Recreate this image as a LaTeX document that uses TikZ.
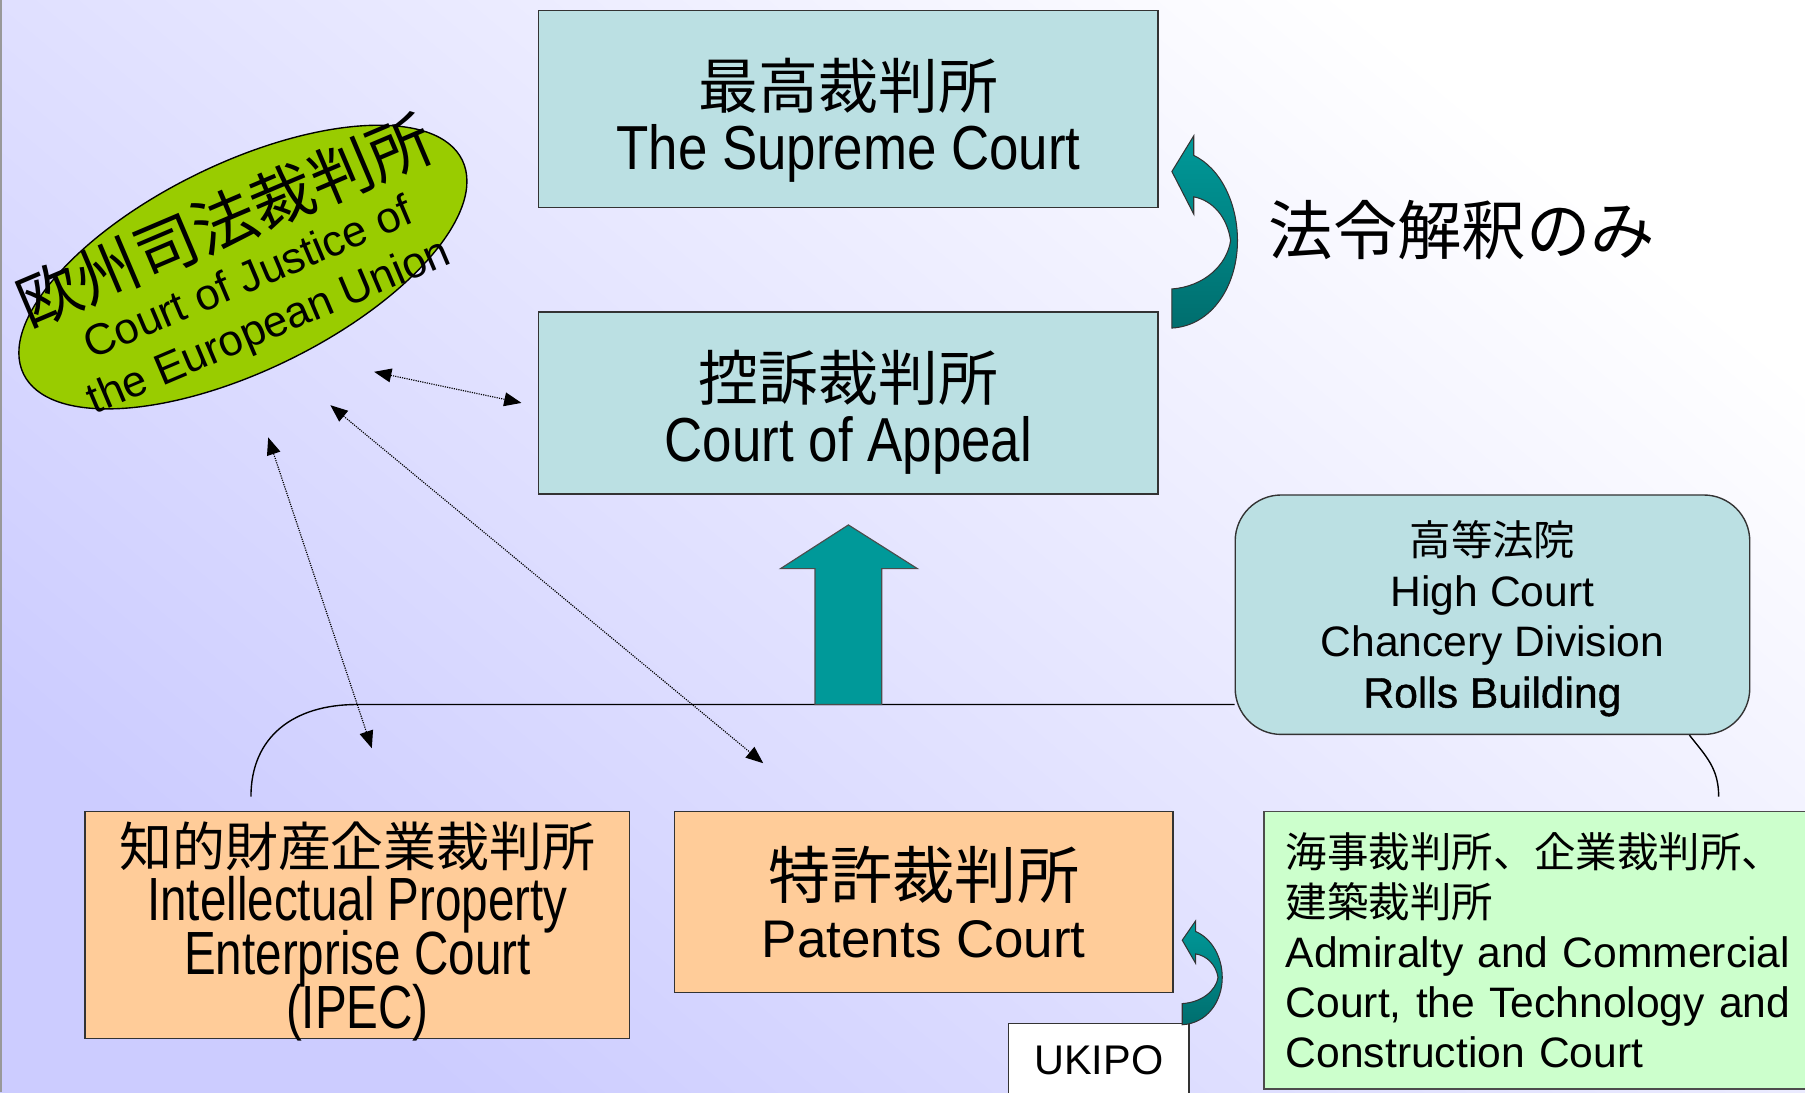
\documentclass[tikz,border=0pt]{standalone}
\usepackage{fontspec}
\setmainfont{Liberation Sans}
\newfontfamily\jp{Noto Sans CJK JP}
\newfontfamily\cond[FakeStretch=0.85]{Liberation Sans}
\newfontfamily\condd[FakeStretch=0.78]{Liberation Sans}
\newfontfamily\heavy[FakeBold=1]{Liberation Sans}
\usetikzlibrary{calc,shapes,positioning}
\usetikzlibrary{arrows.meta}

\definecolor{courtblue}{RGB}{187,224,227}
\definecolor{courtorange}{RGB}{255,204,153}
\definecolor{courtgreen}{RGB}{204,255,204}
\definecolor{eugreen}{RGB}{153,204,0}
\definecolor{arrowteal}{RGB}{0,153,153}
\definecolor{arrowdark}{RGB}{0,110,110}
\definecolor{slidebg}{RGB}{204,204,255}

% bent arrow, drawn in a 57 x 167 box
\newcommand{\bendarrow}{\shadedraw[draw=black!80, line width=0.9pt, top color=arrowteal, bottom color=arrowdark]
  (19,17) .. controls (42,28) and (57,58) .. (57,91) .. controls (57,130) and (35,165) .. (0,167)
  -- (0,133) .. controls (28,131) and (48,112) .. (51,91) .. controls (48,70) and (35,56) .. (19,53)
  -- (19,68) -- (0,31) -- (19,0) -- cycle;}

\begin{document}
\global\lineskiplimit=-100pt
\begin{tikzpicture}[x=1pt,y=-1pt]
    \tikzstyle{cnode} = [draw=black!80, line width=1.2pt, fill=courtblue, align=center, inner sep=0pt]
    \tikzstyle{onode} = [draw=black!80, line width=1.2pt, fill=courtorange, align=center, inner sep=0pt]
    \tikzstyle{gnode} = [draw=black!70, line width=1.2pt, fill=courtgreen, align=left, inner sep=0pt]
    \tikzstyle{enode} = [draw=black, line width=1.2pt, fill=eugreen, ellipse, inner sep=0pt]
    \tikzstyle{darrow} = [densely dotted, line width=1pt, {Triangle[length=15pt,width=12pt]}-{Triangle[length=15pt,width=12pt]}]
    \useasboundingbox (0,0) rectangle (1568,949);
    \shade[bottom color=slidebg, top color=white, shading angle=-40] (0,0) rectangle (1568,949);
    \draw[black!40, line width=2pt] (1,0) -- (1,949);

    \node[cnode, minimum width=538pt, minimum height=171pt, font=\fontsize{52}{53}\selectfont] (sc) at (737,94.5)
        {{\jp\rule{0pt}{64pt}最高裁判所}\\{\cond\fontsize{54}{53}\selectfont The Supreme Court}};
    \node[cnode, minimum width=538pt, minimum height=158pt, font=\fontsize{52}{53}\selectfont] (ca) at (737,350)
        {{\jp\rule{0pt}{60pt}控訴裁判所}\\{\cond\fontsize{54}{53}\selectfont Court of Appeal}};
    \node[cnode, rounded corners=40pt, minimum width=447pt, minimum height=208pt, font=\fontsize{37}{44}\selectfont] (hc) at (1296.5,534)
        {{\jp\fontsize{36}{44}\selectfont\rule{0pt}{37pt}高等法院}\\High Court\\Chancery Division\\{\heavy Rolls Building}};
    \node[font=\jp\fontsize{56}{60}\selectfont] (lawonly) at (1270,200) {法令解釈のみ};

    % bracket under the high court
    \coordinate (brl) at (218,692);
    \coordinate (brt) at (310,612);
    \coordinate (brr) at (1493,692);
    \draw[line width=1.2pt] (brl) .. controls +(0,-52) and +(-55,0) .. (brt) -- (hc.west |- brt);
    \draw[line width=1.2pt] ([xshift=-53pt]hc.south east) .. controls +(14,18) and +(0,-25) .. (brr);
    \filldraw[fill=arrowteal, draw=black!70, line width=1pt] (708,612) -- (708,494) -- (678,494) -- (737,456)
        -- (797,494) -- (766,494) -- (766,612) -- cycle;

    \node[enode, rotate=26, minimum width=424pt, minimum height=180pt] (cjeu) at (211,232) {};
    \node[rotate=23, align=center, font=\fontsize{38}{45}\selectfont] (cjeutxt) at (213,235)
        {{\jp\fontsize{55}{45}\selectfont 欧州司法裁判所}\\Court of Justice of\\the European Union};

    \node[onode, minimum width=473pt, minimum height=197pt, font=\fontsize{53}{47}\selectfont] (ipec) at (310.5,803.5)
        {{\jp\fontsize{46}{47}\selectfont 知的財産企業裁判所}\\{\condd Intellectual Property}\\{\condd Enterprise Court}\\{\condd\smash{(IPEC)}}};
    \node[onode, minimum width=433pt, minimum height=157pt, font=\fontsize{46}{51}\selectfont] (pc) at (802.5,783.5)
        {{\jp\fontsize{54}{51}\selectfont 特許裁判所}\\Patents Court};
    \node[draw=black!80, fill=white, line width=1.2pt, minimum width=157pt, minimum height=64pt, font=\fontsize{36}{40}\selectfont] (ukipo) at (954.5,921) {UKIPO};
    \node[gnode, minimum width=488pt, minimum height=241pt, text width=450pt, font=\fontsize{37}{43.3}\selectfont] (acc) at (1342,825.5)
        {{\jp\fontsize{36}{43.3}\selectfont 海事裁判所、企業裁判所、}\\{\jp\fontsize{36}{43.3}\selectfont 建築裁判所}\\Admiralty and Commercial\\Court, the Technology and\\Construction Court};

    % links with the european court
    \coordinate (d1a) at (325,323);
    \coordinate (d1b) at (453,350);
    \coordinate (d2a) at (287,352);
    \coordinate (d2b) at (663,663);
    \coordinate (d3a) at (233,380);
    \coordinate (d3b) at (323,650);
    \draw[darrow] (d1a) -- (d1b);
    \draw[darrow] (d2a) -- (d2b);
    \draw[darrow] (d3a) -- (d3b);

    \begin{scope}[shift={(1018,118)}]
      \bendarrow
    \end{scope}
    \begin{scope}[shift={(1027,800)}, xscale=0.61, yscale=0.54]
      \bendarrow
    \end{scope}
\end{tikzpicture}
\end{document}
